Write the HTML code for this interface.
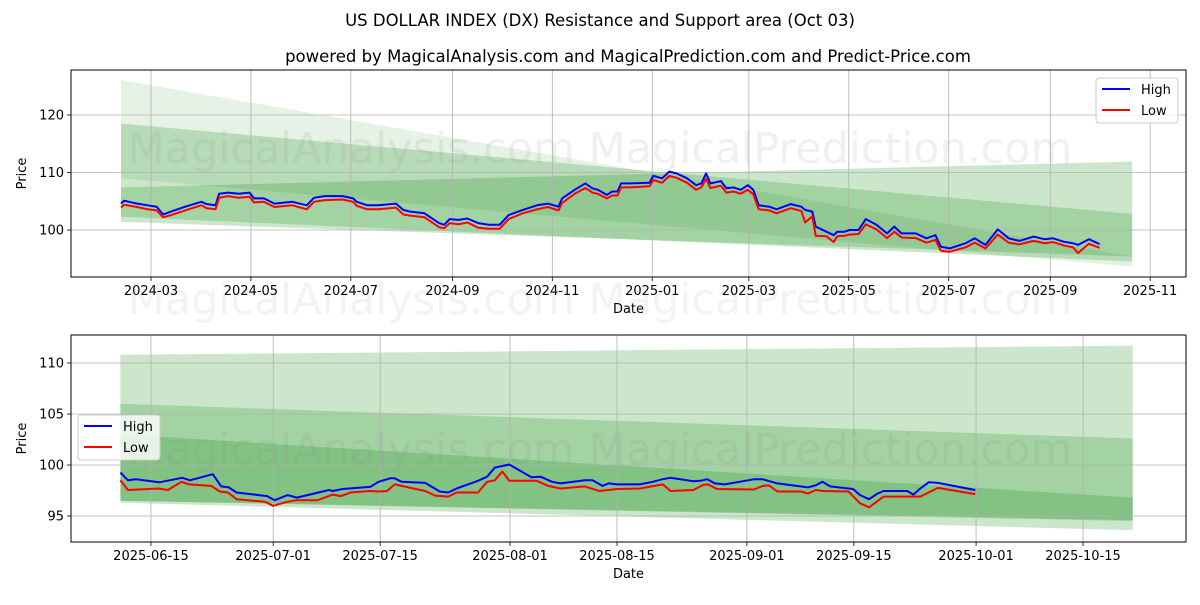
<!DOCTYPE html>
<html><head><meta charset="utf-8"><style>
body{margin:0;background:#fff;}
svg text{font-family:"DejaVu Sans","Liberation Sans",sans-serif;}
</style></head><body>
<svg id="c" width="1200" height="600" xmlns="http://www.w3.org/2000/svg">
<rect width="1200" height="600" fill="#fff"/>
<text x="600" y="26" text-anchor="middle" font-size="16.5">US DOLLAR INDEX (DX) Resistance and Support area (Oct 03)</text>
<text x="628" y="62" text-anchor="middle" font-size="16.5">powered by MagicalAnalysis.com and MagicalPrediction.com and Predict-Price.com</text>
</svg>
<script>
// Top chart: days since 2024-03-01
const topHighDays=[-18.3,-16.5,-8.5,-2,3.5,7.4,12.2,20.9,30.7,34,39.4,41.6,47,53.6,60.2,62.8,68.9,75.4,86.3,95.1,99.5,106,116.9,123.4,125.6,132.1,138.7,149.6,154,158.3,167,175.8,179,182.3,187.7,193.2,199.7,206.3,212.8,218.3,227,235.7,242.3,248.8,251,258.6,265.2,269.5,272.8,278.3,281.6,284.8,287,292.4,304.4,306.6,312,316.4,320.8,327.3,332.8,336,338.9,341.5,348,351.3,355.7,360,364.4,367.7,371,377.5,381.9,390.6,397.1,399.3,403.7,405.8,412.4,416.8,418.9,423.3,426.5,432,436.4,442.9,449.4,453.8,458.2,466.9,473.4,478.9,482.2,487.6,497.4,502.9,509.4,517,523.6,530.1,538.9,545.4,550.8,557.4,562.8,566,572.6,579.1];
const topHigh=[104.6,105.1,104.6,104.3,104.05,102.7,103.2,104.05,104.9,104.5,104.3,106.3,106.5,106.3,106.5,105.5,105.5,104.6,104.9,104.3,105.6,105.9,105.9,105.5,104.9,104.3,104.3,104.6,103.5,103.2,102.9,101.2,100.9,101.9,101.75,102.0,101.2,100.9,100.9,102.6,103.5,104.3,104.6,104.05,105.5,107.0,108.1,107.25,107.0,106.1,106.7,106.7,108.1,108.1,108.2,109.4,109.0,110.15,109.85,109.0,107.8,108.1,109.85,108.1,108.5,107.25,107.4,107.0,107.8,107.0,104.3,104.05,103.6,104.5,104.05,103.5,103.2,100.6,99.7,99.1,99.7,99.7,100.0,100.0,101.9,100.9,99.4,100.6,99.4,99.4,98.55,99.1,97.1,96.8,97.7,98.55,97.4,100.1,98.55,98.1,98.85,98.4,98.55,97.95,97.7,97.4,98.4,97.55];
const topLow=[103.9,104.4,104.0,103.6,103.4,102.2,102.6,103.4,104.3,103.8,103.6,105.6,105.9,105.6,105.8,104.8,104.9,104.0,104.3,103.6,104.9,105.2,105.3,104.9,104.2,103.6,103.6,103.9,102.7,102.5,102.2,100.5,100.3,101.2,101.0,101.3,100.4,100.2,100.2,101.9,102.9,103.6,104.0,103.4,104.7,106.3,107.3,106.5,106.3,105.5,106.0,106.0,107.4,107.4,107.6,108.7,108.2,109.4,109.1,108.2,107.0,107.4,108.9,107.3,107.7,106.5,106.7,106.3,107.0,106.2,103.6,103.4,102.9,103.8,103.3,101.3,102.4,99.0,98.9,97.9,98.9,99.0,99.2,99.3,101.0,100.1,98.6,99.7,98.7,98.6,97.8,98.3,96.4,96.2,97.0,97.8,96.8,99.2,97.8,97.5,98.1,97.7,97.9,97.3,97.0,96.0,97.6,96.9];
const topXTicks=[0,61,122,184,245,306,365,426,487,549,610];
const topXLabels=["2024-03","2024-05","2024-07","2024-09","2024-11","2025-01","2025-03","2025-05","2025-07","2025-09","2025-11"];
const topYTicks=[100,110,120];
const topBandUpper=[126.1,118.5,107.4];
const topBandUpperEnd=[95.4,102.8,111.9];
const topBandLower=[109.0,102.3,101.4];
const topBandLowerEnd=[93.6,94.5,95.4];
const topBandAlpha=[0.1,0.2,0.2];
const topBandDays=[-18.3,599];

// Bottom chart: days since 2025-06-11
const botHighDays=[0,1,2,5.1,8.1,9.1,12.1,13.2,14.2,15.2,19.2,20.2,21.9,23.1,27.3,27.8,29.1,32.7,33.8,35.3,35.9,36.8,39.9,41.8,42.9,44,46.8,48,49,50.9,53.8,55,56.5,57.6,60.8,61.8,63.1,63.9,65,68,69.7,70.9,72,75,75.9,76.8,77.8,79.1,82.9,84.1,86,90,91,91.9,92.9,95.9,96.8,98,99.1,99.9,103,103.8,104.7,105.8,107,111.9];
const botHigh=[99.25,98.5,98.6,98.3,98.75,98.5,99.1,97.9,97.8,97.3,96.95,96.55,97.05,96.8,97.55,97.45,97.65,97.85,98.35,98.7,98.7,98.35,98.25,97.4,97.3,97.7,98.45,98.85,99.75,100.05,98.8,98.85,98.35,98.2,98.5,98.5,97.95,98.2,98.1,98.1,98.35,98.6,98.75,98.4,98.45,98.6,98.2,98.1,98.6,98.6,98.2,97.8,98.0,98.35,97.9,97.65,97.05,96.65,97.2,97.45,97.45,97.1,97.7,98.3,98.25,97.55];
const botLowDays=[0,1,5,6.2,8,9,11.9,13,14.1,15.2,18.9,20,21.9,23.1,25.8,27.8,28.9,30.1,32.7,33.8,34.9,35.9,39.9,41.2,42.9,44,46.8,48,49,50,50.9,54.5,56,57.6,60.8,62.7,65,68,71,72,75,76.3,76.9,78.1,82.9,84.1,84.9,86,89.1,90,91,92,95.3,96.8,98,99.9,103,104.7,107,111.9];
const botLow=[98.5,97.55,97.7,97.55,98.35,98.1,97.95,97.4,97.3,96.65,96.4,96.0,96.4,96.55,96.55,97.1,96.95,97.3,97.45,97.4,97.45,98.1,97.45,97.0,96.9,97.3,97.3,98.35,98.5,99.35,98.45,98.45,97.95,97.7,97.9,97.45,97.65,97.7,98.1,97.45,97.55,98.05,98.1,97.65,97.6,97.95,98.0,97.4,97.4,97.2,97.55,97.45,97.4,96.25,95.85,96.9,96.9,96.9,97.75,97.15];
const botXTicks=[4,20,34,51,65,82,96,112,126];
const botXLabels=["2025-06-15","2025-07-01","2025-07-15","2025-08-01","2025-08-15","2025-09-01","2025-09-15","2025-10-01","2025-10-15"];
const botYTicks=[95,100,105,110];
const botBandUpper=[110.8,106.0,103.0];
const botBandUpperEnd=[111.7,102.6,96.8];
const botBandLower=[96.5,96.5,96.3];
const botBandLowerEnd=[94.5,94.6,93.6];
const botBandAlpha=[0.2,0.2,0.2];
const botBandDays=[0,132.5];

const NS="http://www.w3.org/2000/svg";
const svg=document.getElementById('c');
function mk(tag,attrs,parent){const e=document.createElementNS(NS,tag);for(const k in attrs)e.setAttribute(k,attrs[k]);(parent||svg).appendChild(e);return e;}

function drawChart(o){
  const g=mk('g',{});
  
  
  const X=d=>o.x0+(d-o.d0)*o.pxd;
  const Y=v=>o.yRef-(v-o.vRef)*o.pxv;
  const cp=mk('clipPath',{id:o.name+'-clip'},g);
  mk('rect',{x:o.L,y:o.T,width:o.R-o.L,height:o.B-o.T},cp);
  const inner=mk('g',{'clip-path':'url(#'+o.name+'-clip)'},g);
  for(let i=0;i<o.bu.length;i++){
    const a=o.bd[0],b=o.bd[1];
    const p=mk('polygon',{points:`${X(a)},${Y(o.bu[i])} ${X(b)},${Y(o.bue[i])} ${X(b)},${Y(o.ble[i])} ${X(a)},${Y(o.bl[i])}`,fill:'rgb(0,128,0)','fill-opacity':o.ba[i]},inner);
    
    
  }
  o.xt.forEach((d,i)=>{
    const x=X(d);
    const l=mk('line',{x1:x,x2:x,y1:o.T,y2:o.B,stroke:'#b0b0b0','stroke-width':0.8},inner);
    
    
    mk('line',{x1:x,x2:x,y1:o.B,y2:o.B+4,stroke:'#000','stroke-width':0.8},g);
    const t=mk('text',{x:x,y:o.B+18,'text-anchor':'middle','font-size':13},g);t.textContent=o.xl[i];
    
    
  });
  o.yt.forEach(v=>{
    const y=Y(v);
    const l=mk('line',{x1:o.L,x2:o.R,y1:y,y2:y,stroke:'#b0b0b0','stroke-width':0.8},inner);
    
    
    mk('line',{x1:o.L-4,x2:o.L,y1:y,y2:y,stroke:'#000','stroke-width':0.8},g);
    const t=mk('text',{x:o.L-7,y:y+4.5,'text-anchor':'end','font-size':13},g);t.textContent=v;
    
    
  });
  const w=mk('text',{x:600,y:o.wy,'text-anchor':'middle','font-size':43,fill:'#888','fill-opacity':0.13},inner);
  w.textContent='MagicalAnalysis.com    MagicalPrediction.com';
  
  
  const pts=(ds,vs)=>ds.map((d,i)=>X(d).toFixed(1)+','+Y(vs[i]).toFixed(1)).join(' ');
  const hl=mk('polyline',{points:pts(o.hd,o.h),fill:'none',stroke:'#0000ff','stroke-width':2,'stroke-linejoin':'round'},inner);
  
  
  const ll=mk('polyline',{points:pts(o.ld,o.l),fill:'none',stroke:'#ff0000','stroke-width':2,'stroke-linejoin':'round'},inner);
  
  
  const fr=mk('rect',{x:o.L,y:o.T,width:o.R-o.L,height:o.B-o.T,fill:'none',stroke:'#000','stroke-width':1},g);
  
  
  const xt=mk('text',{x:(o.L+o.R)/2,y:o.B+36,'text-anchor':'middle','font-size':13},g);xt.textContent='Date';
  
  
  const cy=(o.T+o.B)/2;
  const yt=mk('text',{x:26,y:cy,'text-anchor':'middle','font-size':13,transform:`rotate(-90 26 ${cy})`},g);yt.textContent='Price';
  
  
  const lg=mk('g',{},g);
  
  
  mk('rect',{x:o.lx,y:o.ly,width:82,height:45,rx:3,fill:'#fff','fill-opacity':0.8,stroke:'#ccc'},lg);
  [['High','#0000ff'],['Low','#ff0000']].forEach((e,i)=>{
    const yy=o.ly+11+i*21;
    const en=mk('g',{},lg);
    
    
    mk('line',{x1:o.lx+6,x2:o.lx+34,y1:yy,y2:yy,stroke:e[1],'stroke-width':2},en);
    const t=mk('text',{x:o.lx+45,y:yy+5,'font-size':13},en);t.textContent=e[0];
  });
}
drawChart({name:'top-chart',L:71,R:1186,T:70,B:277,x0:151,d0:0,pxd:1.638,yRef:230,vRef:100,pxv:5.75,
  xt:topXTicks,xl:topXLabels,yt:topYTicks,bu:topBandUpper,bue:topBandUpperEnd,bl:topBandLower,ble:topBandLowerEnd,ba:topBandAlpha,bd:topBandDays,
  hd:topHighDays,h:topHigh,ld:topHighDays,l:topLow,lx:1096,ly:78,wy:163});
drawChart({name:'bottom-chart',L:71,R:1186,T:335,B:542,x0:120.4,d0:0,pxd:7.64,yRef:465,vRef:100,pxv:10.2,
  xt:botXTicks,xl:botXLabels,yt:botYTicks,bu:botBandUpper,bue:botBandUpperEnd,bl:botBandLower,ble:botBandLowerEnd,ba:botBandAlpha,bd:botBandDays,
  hd:botHighDays,h:botHigh,ld:botLowDays,l:botLow,lx:78,ly:415,wy:464});
const wm=mk('text',{x:600,y:314,'text-anchor':'middle','font-size':43,fill:'#888','fill-opacity':0.1});
wm.textContent='MagicalAnalysis.com    MagicalPrediction.com';


</script>
</body></html>
